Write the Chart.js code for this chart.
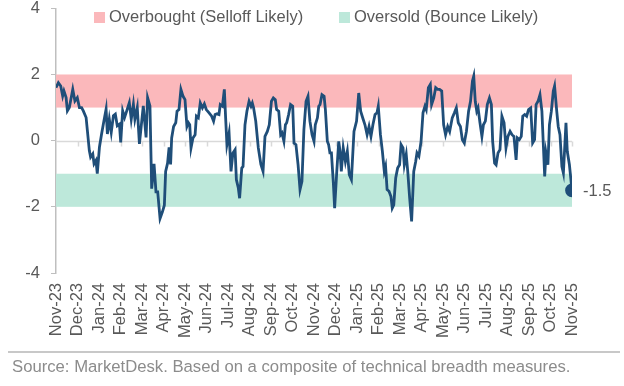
<!DOCTYPE html>
<html>
<head>
<meta charset="utf-8">
<script src="https://cdn.jsdelivr.net/npm/chart.js@4.4.1/dist/chart.umd.min.js"></script>
<style>
  body { margin: 0; background: #fff; font-family: "Liberation Sans", Arial, sans-serif; }
  #wrap { position: relative; width: 624px; height: 386px; }
  #box { position: absolute; left: 0; top: 0; width: 624px; height: 352px; }
  .leg { position: absolute; top: 7px; font-size: 16.5px; color: #595959; white-space: nowrap; }
  .leg i { display: inline-block; width: 11px; height: 11px; margin-right: 4px; vertical-align: -1px; }
  #sep { position: absolute; left: 8px; top: 351px; width: 612px; height: 2px; background: #c8c8c8; }
  #src { position: absolute; left: 12px; top: 357px; font-size: 16.7px; color: #8c8c8c; white-space: nowrap; }
</style>
</head>
<body>
<div id="wrap">
  <div id="box"><canvas id="chart"></canvas></div>
  <div class="leg" style="left:94px"><i style="background:#fbb8bb"></i>Overbought (Selloff Likely)</div>
  <div class="leg" style="left:339px"><i style="background:#bde8da"></i>Oversold (Bounce Likely)</div>
  <div id="sep"></div>
  <div id="src">Source: MarketDesk. Based on a composite of technical breadth measures.</div>
</div>
<script>
// etiquetas del eje X (una por mes, desde nov-23)
const monthLabels = ["Nov-23", "Dec-23", "Jan-24", "Feb-24", "Mar-24", "Apr-24", "May-24", "Jun-24",
  "Jul-24", "Aug-24", "Sep-24", "Oct-24", "Nov-24", "Dec-24", "Jan-25", "Feb-25", "Mar-25",
  "Apr-25", "May-25", "Jun-25", "Jul-25", "Aug-25", "Sep-25", "Oct-25", "Nov-25"];

// tiempo en meses desde nov-23
const months = [
  0.00, 0.11, 0.22, 0.31, 0.37, 0.47, 0.53, 0.62, 0.78, 0.88, 0.99, 1.09, 1.19, 1.27, 1.40, 1.46,
  1.55, 1.61, 1.71, 1.77, 1.86, 1.92, 2.02, 2.12, 2.23, 2.33, 2.39, 2.48, 2.57, 2.67, 2.76, 2.85,
  2.95, 3.01, 3.10, 3.19, 3.29, 3.41, 3.50, 3.60, 3.67, 3.78, 3.88, 4.06, 4.19, 4.26, 4.37, 4.45,
  4.56, 4.65, 4.73, 4.84, 4.95, 5.04, 5.10, 5.19, 5.26, 5.33, 5.38, 5.47, 5.57, 5.63, 5.72, 5.81,
  5.91, 6.00, 6.09, 6.16, 6.22, 6.28, 6.37, 6.47, 6.53, 6.62, 6.71, 6.81, 6.90, 6.99, 7.12, 7.24,
  7.33, 7.40, 7.49, 7.58, 7.64, 7.74, 7.83, 7.89, 7.95, 8.05, 8.14, 8.23, 8.33, 8.39, 8.48, 8.54,
  8.64, 8.70, 8.79, 8.88, 8.98, 9.07, 9.13, 9.19, 9.29, 9.41, 9.53, 9.63, 9.72, 9.83, 9.92, 10.02,
  10.11, 10.20, 10.26, 10.36, 10.45, 10.51, 10.60, 10.67, 10.73, 10.82, 10.91, 11.01, 11.07, 11.16,
  11.26, 11.35, 11.44, 11.53, 11.63, 11.72, 11.81, 11.91, 12.00, 12.06, 12.16, 12.22, 12.28, 12.37,
  12.47, 12.53, 12.62, 12.68, 12.74, 12.81, 12.90, 12.96, 13.05, 13.15, 13.21, 13.27, 13.36, 13.46,
  13.55, 13.64, 13.74, 13.86, 13.98, 14.08, 14.17, 14.29, 14.37, 14.47, 14.56, 14.65, 14.74, 14.84,
  14.93, 14.99, 15.09, 15.18, 15.27, 15.33, 15.40, 15.49, 15.58, 15.64, 15.71, 15.80, 15.89, 15.98,
  16.05, 16.14, 16.20, 16.29, 16.36, 16.45, 16.54, 16.64, 16.73, 16.79, 16.88, 16.98, 17.07, 17.16,
  17.22, 17.32, 17.41, 17.47, 17.57, 17.66, 17.75, 17.84, 17.94, 18.03, 18.12, 18.22, 18.31, 18.43,
  18.53, 18.62, 18.71, 18.81, 18.90, 18.99, 19.09, 19.19, 19.28, 19.37, 19.43, 19.50, 19.57, 19.63,
  19.72, 19.81, 19.88, 19.97, 20.06, 20.16, 20.25, 20.31, 20.40, 20.47, 20.56, 20.65, 20.74, 20.84,
  20.93, 21.02, 21.12, 21.21, 21.30, 21.40, 21.46, 21.55, 21.64, 21.71, 21.80, 21.89, 21.98, 22.08,
  22.17, 22.26, 22.33, 22.42, 22.51, 22.60, 22.67, 22.73, 22.79, 22.88, 22.95, 23.04, 23.13, 23.19,
  23.29, 23.36, 23.44, 23.53, 23.60, 23.72, 23.78, 23.88, 24.00
];

// indicador compuesto de amplitud técnica
const composite = [
  1.60, 1.75, 1.65, 1.35, 1.50, 1.30, 0.90, 1.00, 1.55, 1.20, 1.30, 1.00, 1.00, 0.90, 0.70, 0.30,
  -0.30, -0.50, -0.40, -0.70, -0.60, -1.00, -0.20, 0.20, 0.60, 0.95, 0.20, 0.65, 0.25, 0.75, 0.80, 0.45,
  0.50, -0.05, 0.90, 0.70, 0.90, 1.15, 0.65, 1.10, 0.65, 1.00, -0.10, 1.05, 0.10, 1.30, 1.05, -1.45,
  -0.70, -1.55, -1.55, -2.35, -2.15, -1.95, -0.93, -0.68, -0.20, -0.72, 0.08, 0.43, 0.54, 0.89, 0.94, 1.55,
  1.34, 1.24, 0.43, 0.54, 0.48, -0.22, 0.08, 0.18, 0.74, 0.69, 1.14, 0.99, 1.11, 0.94, 0.84, 0.74,
  0.59, 0.79, 0.81, 0.79, 1.09, 1.04, 1.55, 0.69, -0.12, 0.23, -0.93, -0.37, -0.27, -1.18, -1.43, -1.74,
  -0.83, -0.78, 0.48, 0.89, 1.19, 1.04, 1.14, 0.99, 0.59, -0.22, -0.72, -0.93, 0.13, 0.28, 0.48, 1.19,
  1.29, 1.24, 0.94, 0.89, 0.18, 0.23, -0.02, 0.48, 0.54, 0.79, 1.09, 1.04, -0.07, -0.12,
  -0.73, -1.48, -1.23, 0.33, 1.19, 1.34, 0.59, 0.18, -0.02, 0.48, 0.69, 1.04, 1.09, 1.39,
  1.34, 0.94, -0.02, -0.12, -0.37, -0.37, -1.28, -2.04, -1.03, -0.02, -0.32, -0.93, -0.22, -0.63,
  -0.32, -1.03, -1.18, 0.28, 0.59, 1.44, 0.89, 0.64, 0.48, 0.18, 0.43, 0.13, 0.48, 0.79,
  0.84, 1.04, 0.18, -0.32, -0.93, -0.78, -1.48, -1.53, -1.69, -2.04, -1.94, -1.13, -0.83, -0.73,
  -0.12, -0.22, -0.73, -0.42, -0.93, -1.74, -2.44, -0.93, -0.63, -0.37, -0.47, -0.02, 0.84, 1.04,
  0.94, 1.60, 1.70, 1.09, 1.29, 1.60, 1.55, 1.55, 1.50, 0.48, 0.18, 0.43, 0.28, 0.69,
  0.84, 0.99, 0.54, 0.43, 0.03, -0.07, 0.28, 0.89, 1.19, 1.80, 1.95, 1.19, 0.89, 0.99,
  0.54, 0.13, 0.48, 0.59, 1.09, 1.29, 1.09, -0.02, -0.68, -0.73, -0.37, -0.27, 0.74, 0.54,
  -0.22, 0.13, 0.28, 0.18, 0.13, -0.58, 0.08, 0.03, 0.13, 0.74, 0.79, 0.74, 0.94, 0.99,
  -0.07, 0.03, 1.09, 1.19, 1.39, 0.89, -0.17, -1.08, -0.37, -0.73, 0.48, 0.89, 1.50, 1.65,
  0.89, 0.43, 0.18, -0.78, -0.98, 0.54, -0.32, -0.73, -1.50
];

const yTicks = [4, 2, 0, -2, -4];
const overbought = [1, 2];
const oversold = [-2, -1];

const lastIdx = composite.length - 1;
const points = months.map((m, i) => ({ x: m, y: composite[i] }));
const fuente = "'Liberation Sans', Arial, sans-serif";

// bandas, línea del cero, marcas del eje X y etiqueta del último valor
const extras = {
  id: "extras",
  beforeDatasetsDraw(chart) {
    const { ctx, chartArea: a, scales: { x, y } } = chart;
    ctx.save();
    ctx.fillStyle = "#fbb8bb";
    ctx.fillRect(a.left, y.getPixelForValue(overbought[1]), a.right - a.left,
      y.getPixelForValue(overbought[0]) - y.getPixelForValue(overbought[1]));
    ctx.fillStyle = "#bde8da";
    ctx.fillRect(a.left, y.getPixelForValue(oversold[1]), a.right - a.left,
      y.getPixelForValue(oversold[0]) - y.getPixelForValue(oversold[1]));
    const y0 = Math.round(y.getPixelForValue(0)) + 0.5;
    ctx.strokeStyle = "#d9d9d9";
    ctx.lineWidth = 1.5;
    ctx.beginPath();
    ctx.moveTo(a.left, y0);
    ctx.lineTo(a.right, y0);
    for (let i = 1; i < monthLabels.length; i++) {
      const px = Math.round(x.getPixelForValue(i)) + 0.5;
      ctx.moveTo(px, y0);
      ctx.lineTo(px, y0 + 5);
    }
    ctx.stroke();
    ctx.restore();
  },
  afterDatasetsDraw(chart) {
    const { ctx } = chart;
    const pt = chart.getDatasetMeta(0).data[lastIdx];
    ctx.save();
    ctx.fillStyle = "#595959";
    ctx.font = "16.5px " + fuente;
    ctx.textBaseline = "middle";
    ctx.fillText(composite[lastIdx].toFixed(1), pt.x + 11, pt.y + 1);
    ctx.restore();
  },
};

new Chart(document.getElementById("chart"), {
  type: "line",
  data: {
    datasets: [
      {
        data: points,
        borderColor: "#1f4e79",
        backgroundColor: "#1f4e79",
        borderWidth: 2.8,
        tension: 0,
        pointRadius: (c) => (c.dataIndex === lastIdx ? 5.5 : 0),
        pointHoverRadius: 0,
      },
    ],
  },
  options: {
    responsive: true,
    maintainAspectRatio: false,
    animation: false,
    layout: { padding: { left: 0, right: 52, top: 8, bottom: 0 } },
    plugins: { legend: { display: false }, tooltip: { enabled: false } },
    scales: {
      x: {
        type: "linear",
        min: 0,
        max: 24,
        grid: { display: false },
        border: { display: false },
        afterFit: (s) => {
          s.height = 79;
          s.paddingLeft = 0;
          s.paddingRight = 0;
        },
        afterBuildTicks: (s) => { s.ticks = monthLabels.map((_, i) => ({ value: i })); },
        ticks: {
          autoSkip: false,
          maxRotation: 90,
          minRotation: 90,
          padding: 2,
          color: "#595959",
          font: { size: 16.5, family: fuente },
          callback: (v) => monthLabels[v],
        },
      },
      y: {
        min: -4,
        max: 4,
        afterFit: (s) => {
          s.width = 56;
          s.paddingTop = 0;
          s.paddingBottom = 0;
        },
        afterBuildTicks: (s) => { s.ticks = yTicks.map((v) => ({ value: v })); },
        grid: {
          color: "rgba(0,0,0,0)",
          tickColor: "#bfbfbf",
          tickLength: 5,
        },
        border: { color: "#bfbfbf", width: 1.5 },
        ticks: {
          padding: 11,
          color: "#595959",
          font: { size: 16.5, family: fuente },
        },
      },
    },
  },
  plugins: [extras],
});
</script>
</body>
</html>
